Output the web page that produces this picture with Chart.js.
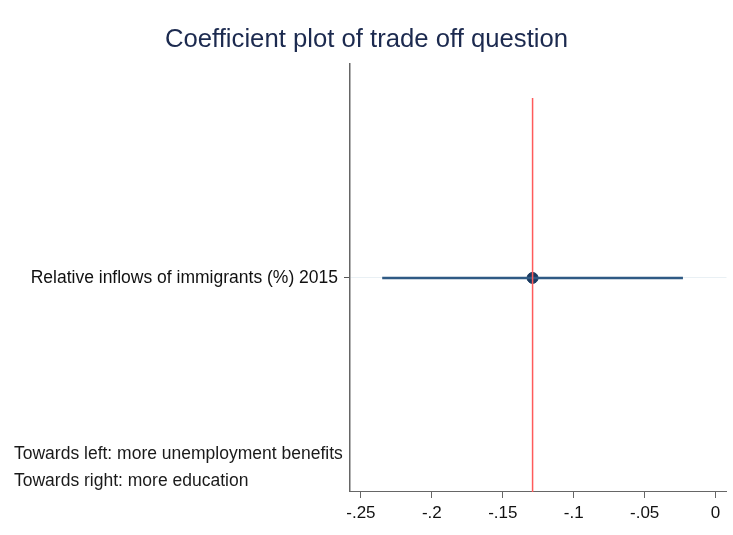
<!DOCTYPE html>
<html>
<head>
<meta charset="utf-8">
<script src="https://cdn.jsdelivr.net/npm/chart.js@4/dist/chart.umd.min.js"></script>
<style>
  html, body { margin: 0; padding: 0; background: #fff; }
  #wrap { width: 733px; height: 535px; }
</style>
</head>
<body>
<div id="wrap"><canvas id="coefChart" width="733" height="535"></canvas></div>
<script>
// coefficient estimate with its confidence interval
const categories = ['Relative inflows of immigrants (%) 2015'];
const coef = [-0.129];
const ciLow = [-0.235];
const ciHigh = [-0.023];
const refLine = [-0.129];
const xTicks = [-0.25, -0.2, -0.15, -0.1, -0.05, 0];
const notes = ['Towards left: more unemployment benefits', 'Towards right: more education'];

const FONT = '"Liberation Sans", Arial, Helvetica, sans-serif';

// notes written in the bottom-left corner
const notesPlugin = {
    id: 'notes',
    afterDraw(chart) {
        const ctx = chart.ctx;
        ctx.save();
        ctx.font = '17.5px ' + FONT;
        ctx.fillStyle = '#1a1a1a';
        ctx.textAlign = 'left';
        ctx.textBaseline = 'middle';
        notes.forEach((n, i) => ctx.fillText(n, 14, 454 + i * 27));
        ctx.restore();
    }
};

const ciData = [];
categories.forEach((c, i) => {
    ciData.push({ x: ciLow[i], y: i + 1 });
    ciData.push({ x: ciHigh[i], y: i + 1 });
});

new Chart(document.getElementById('coefChart').getContext('2d'), {
    type: 'scatter',
    data: {
        datasets: [
            {
                label: 'xline',
                data: [{ x: refLine[0], y: 0 }, { x: refLine[0], y: 1.84 }],
                showLine: true,
                borderColor: '#ff5a5a',
                borderWidth: 1.5,
                pointRadius: 0
            },
            {
                label: 'CI',
                data: ciData,
                showLine: true,
                borderColor: '#2f5a84',
                borderWidth: 2.5,
                pointRadius: 0
            },
            {
                label: 'coef',
                data: coef.map((v, i) => ({ x: v, y: i + 1 })),
                pointRadius: 5.5,
                pointBackgroundColor: '#1a3a60',
                pointBorderColor: '#1a3a60'
            }
        ]
    },
    options: {
        responsive: false,
        animation: false,
        layout: { padding: { left: 5, right: 5, top: 0, bottom: 0 } },
        plugins: {
            legend: { display: false },
            tooltip: { enabled: false },
            title: {
                display: true,
                text: 'Coefficient plot of trade off question',
                color: '#1c2a4f',
                font: { family: FONT, size: 25.7, weight: 'normal' },
                padding: { top: 24, bottom: 9 }
            }
        },
        scales: {
            x: {
                type: 'linear',
                min: -0.2577,
                max: 0.0077,
                afterBuildTicks: scale => { scale.ticks = xTicks.map(v => ({ value: v })); },
                afterFit: scale => { scale.height = 43; },
                ticks: {
                    color: '#111',
                    font: { family: FONT, size: 17 },
                    padding: 5,
                    maxRotation: 0,
                    callback: v => v === 0 ? '0' : String(v).replace('0.', '.')
                },
                grid: { drawOnChartArea: false, drawTicks: true, tickLength: 6, color: '#666' },
                border: { display: true, color: '#666', width: 1 }
            },
            y: {
                type: 'linear',
                min: 0,
                max: 2,
                afterBuildTicks: scale => { scale.ticks = categories.map((c, i) => ({ value: i + 1 })); },
                afterFit: scale => { scale.width = 345; },
                ticks: {
                    color: '#111',
                    font: { family: FONT, size: 17.5 },
                    padding: 6,
                    callback: v => categories[v - 1]
                },
                grid: {
                    drawOnChartArea: true,
                    color: '#e9f0f4',
                    tickColor: '#555',
                    tickLength: 6
                },
                border: { display: true, color: '#666', width: 1.5 }
            }
        }
    },
    plugins: [notesPlugin]
});
</script>
</body>
</html>
